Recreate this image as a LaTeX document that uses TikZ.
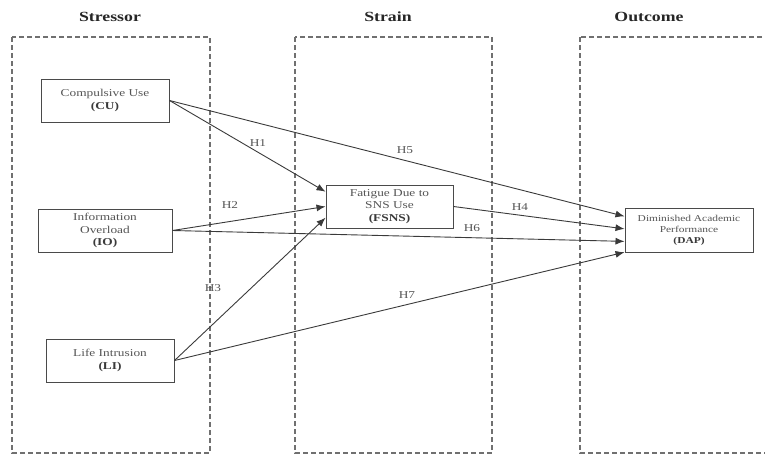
\documentclass[tikz,border=0pt]{standalone}
\usepackage{xcolor}
\usepackage{fontspec}
\setmainfont{Liberation Serif}[FakeStretch=1.27]
\usepackage{tikz}
\usetikzlibrary{shapes, arrows.meta, positioning}

\definecolor{linegray}{HTML}{3A3A3A}
\definecolor{boxgray}{HTML}{4A4A4A}
\definecolor{textgray}{HTML}{555555}
\definecolor{dashgray}{HTML}{707070}

\tikzset{
    construct/.style={draw=boxgray, line width=1pt, fill=white, align=center,
        text=textgray, font=\fontsize{10.5}{12.5}\selectfont,
        minimum width=128pt, minimum height=43pt, inner sep=2pt},
    layer/.style={draw=dashgray, line width=1.2pt, dash pattern=on 5pt off 3pt},
    heading/.style={font=\fontsize{14}{16}\selectfont\bfseries, text=black!85},
    path/.style={draw=linegray, line width=0.9pt, -{Latex[length=9pt,width=7pt]}},
    hyp/.style={text=textgray, font=\fontsize{10.5}{12}\selectfont, inner sep=1pt}
}

\begin{document}
\begin{tikzpicture}[x=1pt, y=-1pt] % one unit per pixel of the slide
        \clip (0,0) rectangle (765,455);

        % Dashed frames for the three stages
        \draw[layer] (12,37) rectangle (210,453);
        \draw[layer] (295,37) rectangle (492,453);
        \draw[layer] (580,37) rectangle (775,453);

        % Stage headings
        \node[heading] (stressor) at (110,17) {Stressor};
        \node[heading] (strain) at (388,17) {Strain};
        \node[heading] (outcome) at (649,17) {Outcome};

        % Constructs
        \node[construct] (cu) at (105,100.5) {Compulsive Use\\\textcolor{linegray}{\textbf{(CU)}}};
        \node[construct, minimum width=134pt] (io) at (105,230.5) {Information\\Overload\\\textcolor{linegray}{\textbf{(IO)}}};
        \node[construct] (li) at (110,360.5) {Life Intrusion\\\textcolor{linegray}{\textbf{(LI)}}};
        \node[construct, minimum width=127pt] (fsns) at (389.5,206.5) {Fatigue Due to\\SNS Use\\\textcolor{linegray}{\textbf{(FSNS)}}};
        \node[construct, font=\fontsize{9}{11}\selectfont, minimum height=44pt] (dap) at (689,230) {Diminished Academic\\Performance\\\textcolor{linegray}{\textbf{(DAP)}}};

        % Hypothesised paths
        \draw[path] (cu.east) -- (fsns.167);
        \draw[path] (cu.east) -- (dap.168);
        \draw[path] (io.east) -- (fsns.west);
        \draw[path] (io.east) -- (dap.190);
        \draw[path] (li.east) -- (fsns.190);
        \draw[path] (li.east) -- (dap.199);
        \draw[path] (fsns.east) -- (dap.179);

        % Label the paths
        \node[hyp] (h1) at (258,143) {H1};
        \node[hyp] (h2) at (230,205) {H2};
        \node[hyp] (h3) at (213,288) {H3};
        \node[hyp] (h4) at (520,207) {H4};
        \node[hyp] (h5) at (405,150) {H5};
        \node[hyp] (h6) at (472,228) {H6};
        \node[hyp] (h7) at (407,295) {H7};
    \end{tikzpicture}
\end{document}
